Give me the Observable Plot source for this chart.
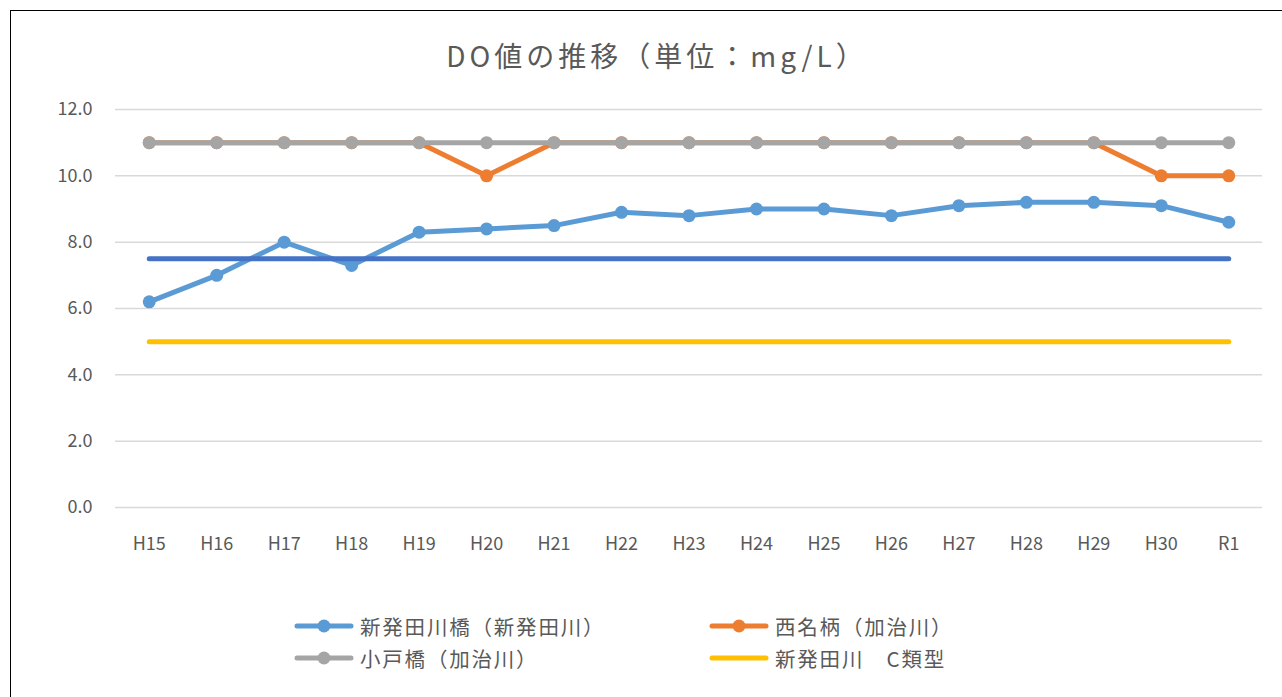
<!DOCTYPE html>
<html><head><meta charset="utf-8">
<script src="https://cdn.jsdelivr.net/npm/d3@7"></script>
<script src="https://cdn.jsdelivr.net/npm/@observablehq/plot@0.6"></script>
<style>
body{margin:0;background:#fff;font-family:"Noto Sans CJK JP","Noto Sans",sans-serif;}
#frame{position:absolute;left:10px;top:10px;width:1300px;height:720px;border:1.5px solid #000;box-sizing:border-box;}
#title{position:absolute;left:7px;width:1300px;top:35px;text-align:center;font-size:28px;line-height:40px;color:#595959;letter-spacing:4px;}
#chart{position:absolute;left:0;top:0;}
.leg{position:absolute;font-size:20.5px;letter-spacing:1.8px;color:#595959;display:flex;align-items:center;white-space:pre;}
.leg svg{margin-right:5px;}
</style></head>
<body>
<div id="frame"></div>
<div id="title">DO値の推移（単位：mg/L）</div>
<div id="chart"></div>
<div id="legend"></div>
<script>
const years = ["H15","H16","H17","H18","H19","H20","H21","H22","H23","H24","H25","H26","H27","H28","H29","H30","R1"];
const yTicks = [0,2,4,6,8,10,12];
const seriesNames = ["新発田川橋（新発田川）","西名柄（加治川）","小戸橋（加治川）","新発田川　C類型","加治川　A類型"];
const shibataBridge = [6.2,7.0,8.0,7.3,8.3,8.4,8.5,8.9,8.8,9.0,9.0,8.8,9.1,9.2,9.2,9.1,8.6];
const nishinagara = [11,11,11,11,11,10,11,11,11,11,11,11,11,11,11,10,10];
const kobashi = [11,11,11,11,11,11,11,11,11,11,11,11,11,11,11,11,11];
const standardC = [5,5,5,5,5,5,5,5,5,5,5,5,5,5,5,5,5];
const standardA = [7.5,7.5,7.5,7.5,7.5,7.5,7.5,7.5,7.5,7.5,7.5,7.5,7.5,7.5,7.5,7.5,7.5];
const colors = ["#5B9BD5","#ED7D31","#A5A5A5","#FFC000","#4472C4"];
const markers = [true,true,true,false,false];

const allSeries = [shibataBridge,nishinagara,kobashi,standardC,standardA];
const table = [];
allSeries.forEach((vals,si)=>vals.forEach((v,i)=>table.push({year:years[i],value:v,series:seriesNames[si],si})));

const marks = [
  Plot.gridY(yTicks,{stroke:"#d9d9d9",strokeOpacity:1,strokeWidth:1.5}),
  Plot.axisY(yTicks,{tickSize:0,tickPadding:23,tickFormat:d=>d.toFixed(1),fontSize:18,fill:"#595959",label:null}),
  Plot.axisX(years,{tickSize:0,tickPadding:30,fontSize:18,fill:"#595959",label:null})
];
[0,1,2,3,4].forEach(si=>{
  const d = table.filter(r=>r.si===si);
  marks.push(Plot.line(d,{x:"year",y:"value",stroke:colors[si],strokeWidth:5,strokeLinecap:"round",strokeLinejoin:"round"}));
  if(markers[si]) marks.push(Plot.dot(d,{x:"year",y:"value",fill:colors[si],r:6.5}));
});

const plot = Plot.plot({
  width:1282,height:580,
  marginLeft:115,marginRight:20,marginTop:109,marginBottom:73,
  x:{type:"point",domain:years,padding:0.5,round:false,axis:null},
  y:{domain:[0,12],axis:null},
  style:{fontFamily:"'Noto Sans CJK JP','Noto Sans',sans-serif",background:"transparent"},
  marks
});
document.getElementById("chart").append(plot);

const legPos = [[293,626],[708,626],[293,658],[708,658]];
const legend = document.getElementById("legend");
legPos.forEach((p,si)=>{
  const el = document.createElement("div");
  el.className="leg";
  el.style.left=p[0]+"px"; el.style.top=(p[1]-15)+"px"; el.style.height="30px";
  el.innerHTML = `<svg width="62" height="16"><line x1="4" x2="58" y1="8" y2="8" stroke="${colors[si]}" stroke-width="5" stroke-linecap="round"/>${markers[si]?`<circle cx="31" cy="8" r="6.5" fill="${colors[si]}"/>`:""}</svg>${seriesNames[si]}`;
  legend.append(el);
});
</script>
</body></html>
